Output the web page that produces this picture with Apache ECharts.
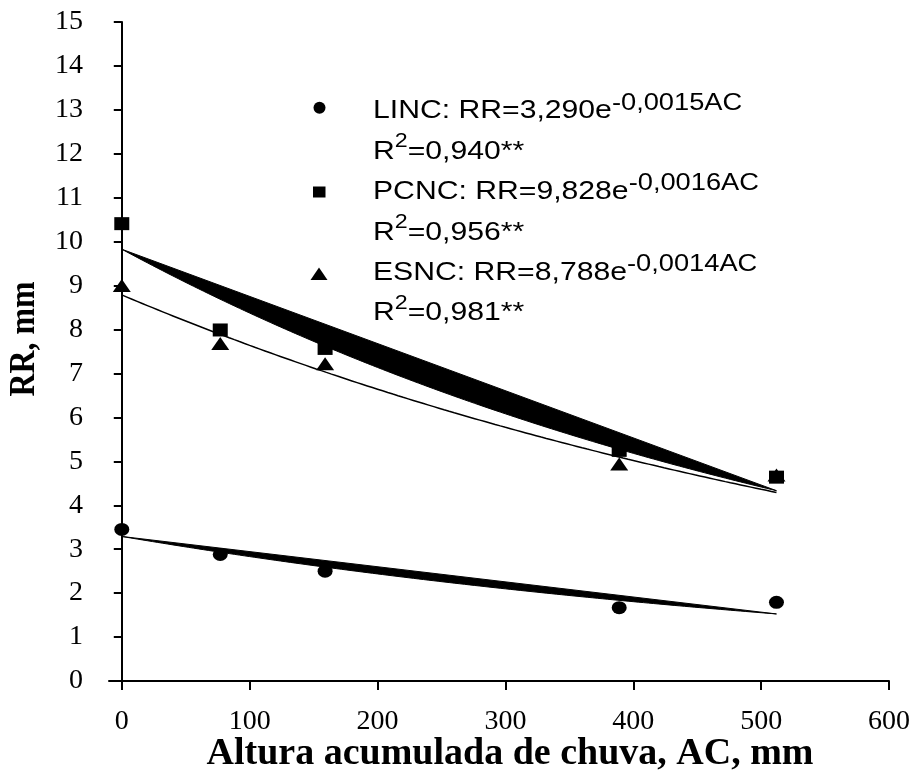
<!DOCTYPE html>
<html>
<head>
<meta charset="utf-8">
<script src="https://cdn.jsdelivr.net/npm/echarts@6/dist/echarts.min.js"></script>
<style>
  html, body { margin: 0; padding: 0; background: #ffffff; }
  #chart { width: 916px; height: 776px; }
</style>
</head>
<body>
<div id="chart"></div>
<script>
// Accumulated rainfall (AC, mm) at each measurement
const AC = [0, 77, 159, 389, 512];

// Random roughness RR (mm) per tillage treatment
const RR_LINC = [3.45, 2.88, 2.50, 1.67, 1.79];
const RR_PCNC = [10.41, 7.99, 7.57, 5.25, 4.64];
const RR_ESNC = [9.00, 7.68, 7.22, 4.94, 4.69];

// Fitted exponential models RR = a·e^(b·AC), as printed in the legend
const FIT_LINC = { a: 3.290, b: -0.0015 };
const FIT_PCNC = { a: 9.828, b: -0.0016 };
const FIT_ESNC = { a: 8.788, b: -0.0014 };

// Legend wording
const LEGEND_LINC = ['LINC: RR=3,290e', '-0,0015AC', '=0,940**'];
const LEGEND_PCNC = ['PCNC: RR=9,828e', '-0,0016AC', '=0,956**'];
const LEGEND_ESNC = ['ESNC: RR=8,788e', '-0,0014AC', '=0,981**'];

// Axis ticks
const X_TICKS = [0, 100, 200, 300, 400, 500, 600];
const Y_MIN = 0, Y_MAX = 15, Y_STEP = 1;

const SERIF = '"Liberation Serif", "Times New Roman", serif';
const SANS = '"Liberation Sans", Arial, sans-serif';

// Trend curve evaluated along the observed AC range
function trendPoints(fit) {
  const xEnd = Math.max.apply(null, AC);
  const pts = [];
  for (let x = 0; x <= xEnd; x += 4) pts.push([x, fit.a * Math.exp(fit.b * x)]);
  return pts;
}

// Trend drawn as a closed outline (curve closed back by its chord)
function closedTrend(name, fit) {
  const pts = trendPoints(fit);
  return {
    name: name,
    type: 'custom',
    coordinateSystem: 'cartesian2d',
    silent: true,
    data: [[0, fit.a]],
    renderItem: function (params, api) {
      return {
        type: 'polygon',
        shape: { points: pts.map(function (p) { return api.coord(p); }) },
        style: { fill: '#000', stroke: '#000', lineWidth: 1 }
      };
    }
  };
}

function pairs(ys) { return AC.map(function (x, i) { return [x, ys[i]]; }); }

const ELLIPSE = 'path://M0,1A1,1 0 1,0 2,1A1,1 0 1,0 0,1Z';

// One legend text row; superscripts are raised with top-aligned rich tokens
function legendLine(x, top, parts) {
  return {
    type: 'text', x: x, y: top, scaleX: 1.16, silent: true,
    style: {
      text: parts,
      verticalAlign: 'top', align: 'left',
      fill: '#000',
      rich: {
        m: { fontFamily: SANS, fontSize: 26, lineHeight: 40, fill: '#000' },
        s: { fontFamily: SANS, fontSize: 23.5, lineHeight: 17, verticalAlign: 'top', fill: '#000' },
        q: { fontFamily: SANS, fontSize: 20, lineHeight: 9, verticalAlign: 'top', fill: '#000' }
      }
    }
  };
}

function eqText(l) { return '{m|' + l[0] + '}{s|' + l[1] + '}'; }
function r2Text(l) { return '{m|R}{q|2}{m|' + l[2] + '}'; }

const LEGEND_TOP = 91.2, LEGEND_ROW = 40.4;

const chart = echarts.init(document.getElementById('chart'), null, { renderer: 'canvas' });

chart.setOption({
  animation: false,
  backgroundColor: '#ffffff',
  grid: { left: 109, right: 27, top: 22, bottom: 95 },
  xAxis: {
    type: 'value',
    min: -10, max: 600,
    splitLine: { show: false },
    axisLine: { lineStyle: { color: '#000', width: 2 } },
    axisTick: { show: true, inside: false, length: 9, customValues: X_TICKS, lineStyle: { color: '#000', width: 2 } },
    axisLabel: { customValues: X_TICKS, margin: 27, color: '#000', fontFamily: SERIF, fontSize: 28 }
  },
  yAxis: {
    type: 'value',
    min: Y_MIN, max: Y_MAX, interval: Y_STEP,
    splitLine: { show: false },
    axisLine: { show: true, lineStyle: { color: '#000', width: 2 } },
    axisTick: { show: true, inside: false, length: 8, lineStyle: { color: '#000', width: 2 } },
    axisLabel: { margin: 26, color: '#000', fontFamily: SERIF, fontSize: 28 }
  },
  series: [
    closedTrend('PCNC ajuste', FIT_PCNC),
    closedTrend('LINC ajuste', FIT_LINC),
    {
      name: 'ESNC ajuste',
      type: 'line',
      data: trendPoints(FIT_ESNC),
      showSymbol: false,
      silent: true,
      lineStyle: { color: '#000', width: 1.5 }
    },
    {
      name: 'LINC', type: 'scatter', data: pairs(RR_LINC),
      symbol: ELLIPSE, symbolSize: [15, 13],
      itemStyle: { color: '#000', opacity: 1 }
    },
    {
      name: 'ESNC', type: 'scatter', data: pairs(RR_ESNC),
      symbol: 'triangle', symbolSize: [18, 13],
      itemStyle: { color: '#000', opacity: 1 }
    },
    {
      name: 'PCNC', type: 'scatter', data: pairs(RR_PCNC),
      symbol: 'rect', symbolSize: [15, 13],
      itemStyle: { color: '#000', opacity: 1 }
    }
  ],
  graphic: [
    // axis titles
    {
      type: 'text', x: 510, y: 754, silent: true,
      style: { text: 'Altura acumulada de chuva, AC, mm', fontFamily: SERIF, fontWeight: 'bold', fontSize: 38,
               fill: '#000', align: 'center', verticalAlign: 'middle' }
    },
    {
      type: 'text', x: 25, y: 339, rotation: Math.PI / 2, scaleX: 0.91, silent: true,
      style: { text: 'RR, mm', fontFamily: SERIF, fontWeight: 'bold', fontSize: 35,
               fill: '#000', align: 'center', verticalAlign: 'middle' }
    },
    // legend symbols
    { type: 'circle', silent: true, shape: { cx: 319.5, cy: 107.7, r: 6 }, style: { fill: '#000' } },
    { type: 'rect', silent: true, shape: { x: 313, y: 186.5, width: 12.5, height: 11 }, style: { fill: '#000' } },
    { type: 'polygon', silent: true, shape: { points: [[319, 267.5], [327.5, 280], [310.5, 280]] }, style: { fill: '#000' } },
    // legend text
    legendLine(373, LEGEND_TOP, eqText(LEGEND_LINC)),
    legendLine(373, LEGEND_TOP + LEGEND_ROW, r2Text(LEGEND_LINC)),
    legendLine(373, LEGEND_TOP + 2 * LEGEND_ROW, eqText(LEGEND_PCNC)),
    legendLine(373, LEGEND_TOP + 3 * LEGEND_ROW, r2Text(LEGEND_PCNC)),
    legendLine(373, LEGEND_TOP + 4 * LEGEND_ROW, eqText(LEGEND_ESNC)),
    legendLine(373, LEGEND_TOP + 5 * LEGEND_ROW, r2Text(LEGEND_ESNC))
  ]
});
</script>
</body>
</html>
